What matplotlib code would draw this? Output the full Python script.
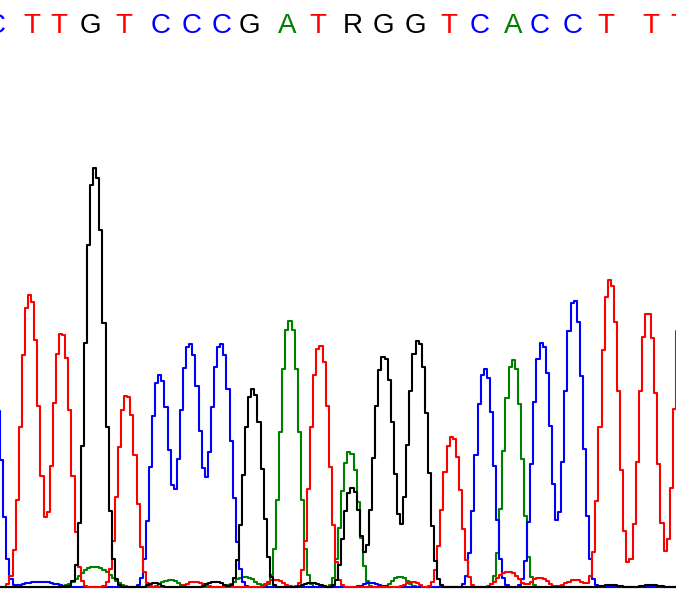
import numpy as np
import matplotlib
matplotlib.use("Agg")
import matplotlib.pyplot as plt

# Base calls printed above the trace
bases = list("CTTGTCCCGATRGGTCACCTTT")
base_pos = [-4, 32, 59, 90, 124, 161, 192, 222, 249, 287, 318, 353, 383, 415, 449, 480, 513, 540, 573, 606, 651, 679]

# Trace peaks per channel: centre position, height, width
a_pos = [95, 170, 245, 290, 350, 400, 513]
a_height = [20, 7, 10, 266, 135, 10, 227]
a_width = [15, 8, 10, 9, 8.5, 8, 9]

c_pos = [-6, 40, 160, 190, 221, 372, 485, 542, 574]
c_height = [200, 5, 212, 243, 243, 4, 218, 244, 287]
c_width = [8, 16, 9, 10, 10, 8, 9, 9, 9]

g_pos = [95, 155, 215, 253, 312, 352, 384, 418, 610, 650]
g_height = [419, 4, 5, 198, 4, 99, 230, 246, 2, 2]
g_width = [9.3, 6, 8, 9, 8, 8, 9.7, 9.7, 8, 8]

t_pos = [30, 62, 127, 195, 275, 320, 412, 452, 508, 540, 575, 610, 648, 684]
t_height = [292, 254, 192, 5, 7, 241, 5, 150, 15, 9, 7, 307, 275, 320]
t_width = [9, 9, 9, 8, 8, 9, 6, 9, 10, 8, 8, 9, 9, 9]

colors = {"A": "#008000", "C": "#0000ff", "G": "#000000", "T": "#ff0000", "R": "#000000"}

sample_x = np.arange(-20, 700, 3.1)


def trace(pos, height, width):
    y = np.zeros_like(sample_x)
    for p, h, w in zip(pos, height, width):
        y += h * np.exp(-0.5 * (np.abs(sample_x - p) / w) ** 2.5)
    return y


fig = plt.figure(figsize=(6.76, 5.91), dpi=100)
ax = fig.add_axes([0, 0, 1, 1])
ax.set_xlim(0, 676)
ax.set_ylim(-4, 587)
ax.axis("off")

lw = 1.5
ax.plot(sample_x, trace(a_pos, a_height, a_width), color=colors["A"], lw=lw, drawstyle="steps-mid")
ax.plot(sample_x, trace(c_pos, c_height, c_width), color=colors["C"], lw=lw, drawstyle="steps-mid")
ax.plot(sample_x, trace(t_pos, t_height, t_width), color=colors["T"], lw=lw, drawstyle="steps-mid")
ax.plot(sample_x, trace(g_pos, g_height, g_width), color=colors["G"], lw=lw, drawstyle="steps-mid")

for b, x in zip(bases, base_pos):
    ax.text(x, 554, b, color=colors[b], fontsize=20, family="Liberation Sans",
            ha="center", va="baseline", clip_on=True)

fig.savefig("out.png", dpi=100)
